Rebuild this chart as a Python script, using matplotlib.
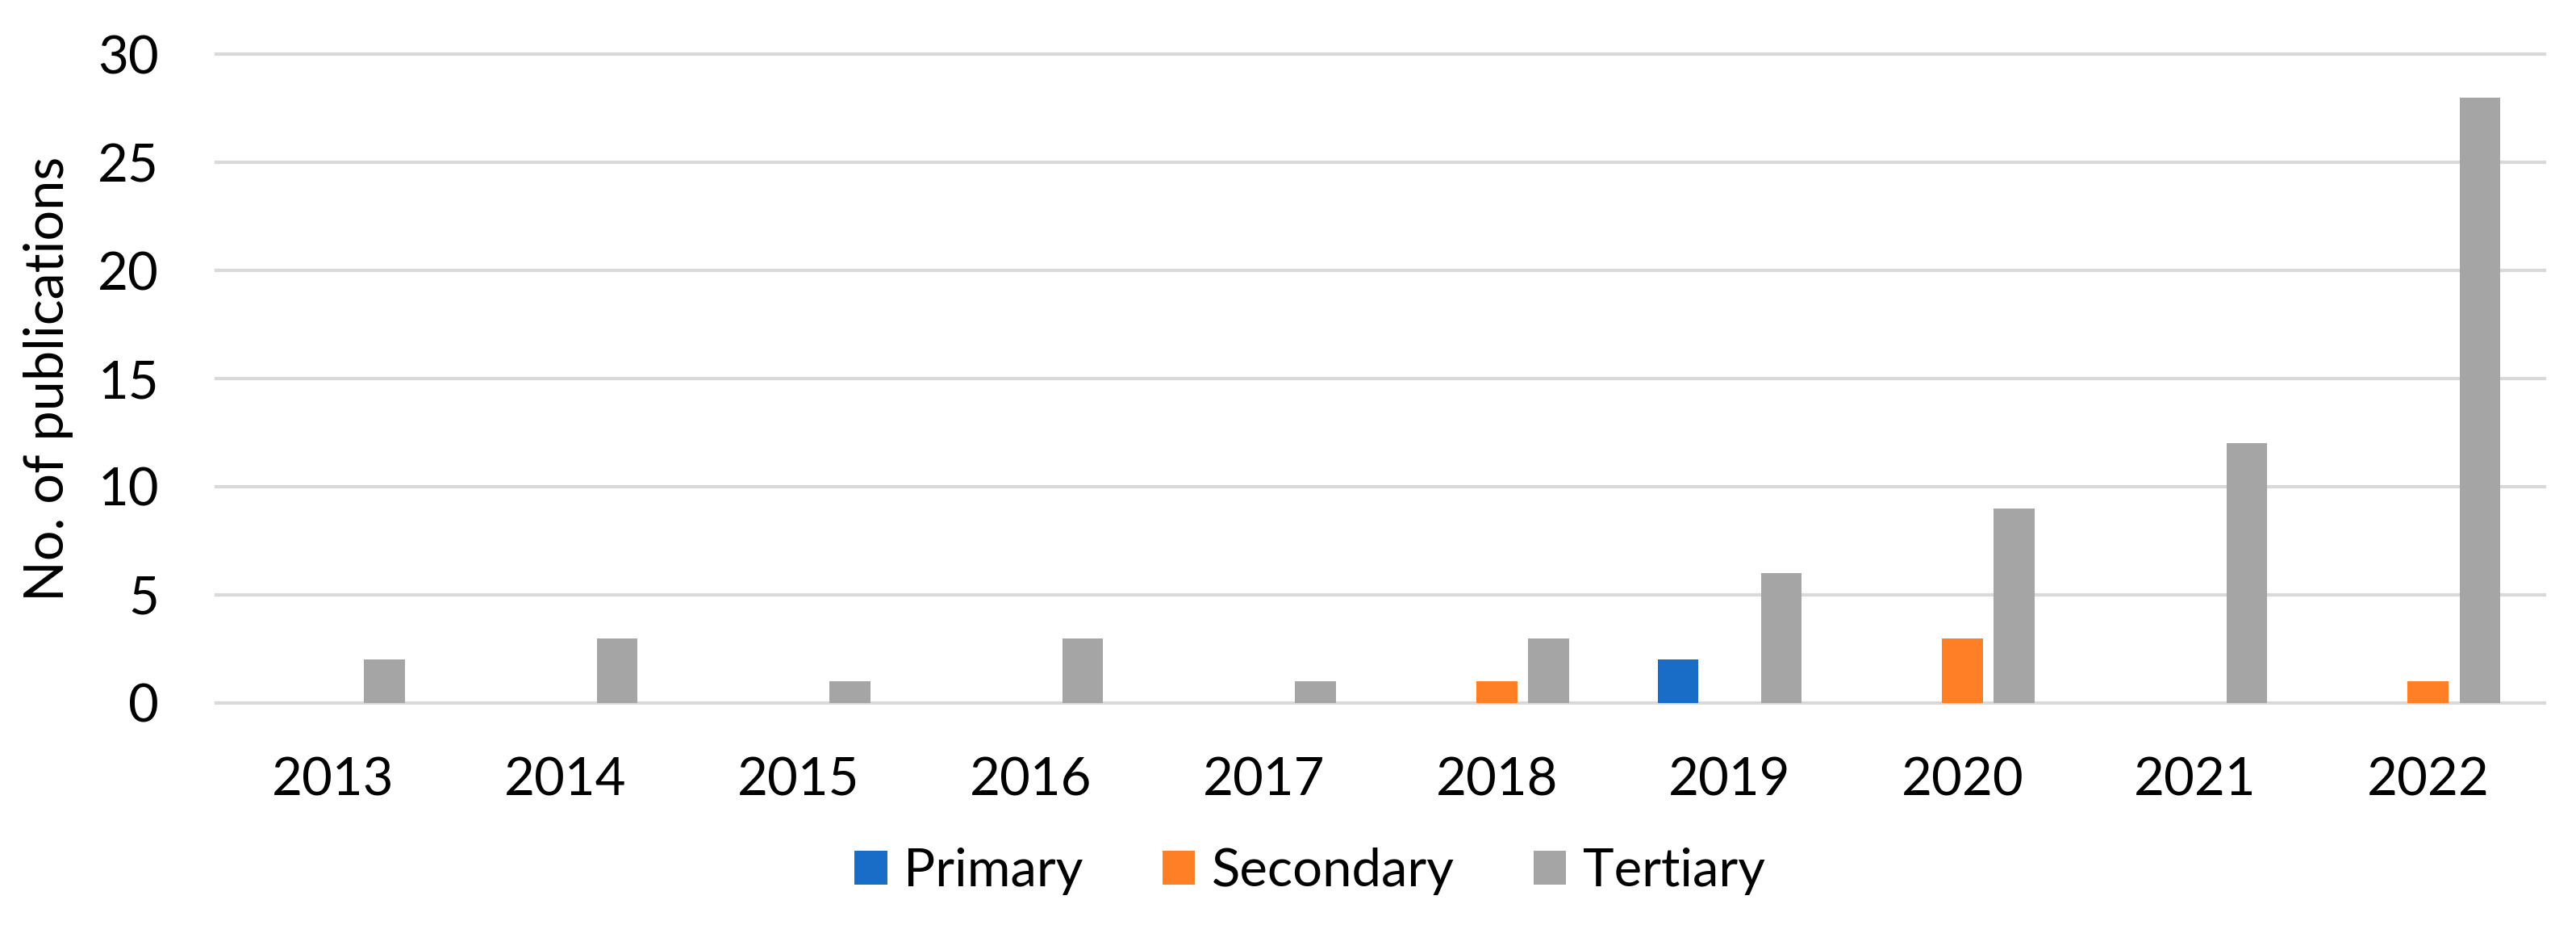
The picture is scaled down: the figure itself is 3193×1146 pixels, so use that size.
import matplotlib
matplotlib.use("Agg")
import matplotlib.pyplot as plt
import numpy as np
from matplotlib.patches import Patch

years = ["2013", "2014", "2015", "2016", "2017", "2018", "2019", "2020", "2021", "2022"]
primary = [0, 0, 0, 0, 0, 0, 2, 0, 0, 0]
secondary = [0, 0, 0, 0, 0, 1, 0, 3, 0, 1]
tertiary = [2, 3, 1, 3, 1, 3, 6, 9, 12, 28]
series_names = ["Primary", "Secondary", "Tertiary"]
colors = ["#1A6DC6", "#FF7F27", "#A5A5A5"]
yticks = [0, 5, 10, 15, 20, 25, 30]

plt.rcParams['font.family'] = ['Lato', 'DejaVu Sans']
fig = plt.figure(figsize=(31.93, 11.46), dpi=100)
ax = fig.add_axes([0.0839, 0.2400, 0.9039, 0.7015])

x = np.arange(len(years))
w = 0.175
off = 0.222
for i, (vals, c) in enumerate(zip([primary, secondary, tertiary], colors)):
    ax.bar(x + (i - 1) * off, vals, width=w, color=c, zorder=3)

ax.set_xlim(-0.5, len(years) - 0.5)
ax.set_ylim(0, 30)
ax.set_yticks(yticks)
ax.set_xticks(x)
ax.set_xticklabels(years)
ax.yaxis.grid(True, color="#D9D9D9", linewidth=3.0, zorder=0)
ax.set_axisbelow(True)
for s in ax.spines.values():
    s.set_visible(False)
ax.tick_params(axis='both', length=0, labelsize=47, colors="black")
ax.tick_params(axis='x', pad=48)
ax.tick_params(axis='y', pad=51)
for gl in ax.get_ygridlines():
    gl.set_clip_on(False)
ax.set_ylabel("No. of publications", fontsize=48)
ax.yaxis.set_label_coords(-0.0613, 0.5)

handles = [Patch(facecolor=c, edgecolor='none') for c in colors]
fig.legend(handles, series_names, loc='center', bbox_to_anchor=(0.5085, 0.058), ncol=3,
           frameon=False, fontsize=47, handlelength=0.62, handleheight=0.6,
           handletextpad=0.32, columnspacing=1.5, borderaxespad=0, borderpad=0)

fig.savefig("out.png", dpi=100)
